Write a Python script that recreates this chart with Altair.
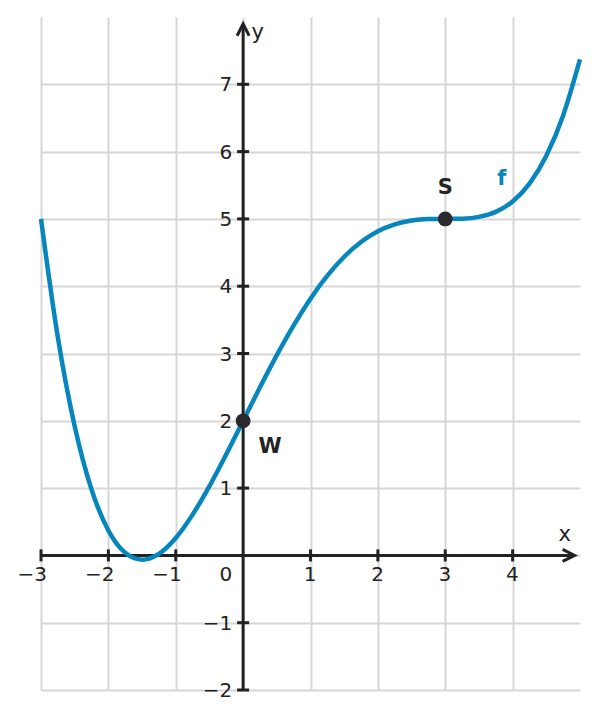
import altair as alt
import pandas as pd

# ---- data ----
curve_x = [-3.0, -2.75, -2.5, -2.25, -2.0, -1.75, -1.5, -1.25, -1.0, -0.75, -0.5, -0.25,
           0.0, 0.25, 0.5, 0.75, 1.0, 1.25, 1.5, 1.75, 2.0, 2.25, 2.5, 2.75,
           3.0, 3.25, 3.5, 3.75, 4.0, 4.25, 4.5, 4.75, 5.0]
curve_y = [5.0, 3.24, 1.919, 0.98, 0.37, 0.038, -0.063, 0.024, 0.259, 0.606, 1.03, 1.504,
           2.0, 2.497, 2.975, 3.418, 3.815, 4.156, 4.438, 4.656, 4.815, 4.918, 4.975, 4.997,
           5.0, 5.004, 5.03, 5.105, 5.259, 5.524, 5.938, 6.538, 7.37]

pt_names = ["S", "W"]
pt_x = [3, 0]
pt_y = [5, 2]

xtick_vals = [-3, -2, -1, 1, 2, 3, 4]
xtick_labels = ["−3", "−2", "−1", "1", "2", "3", "4"]
ytick_vals = [-2, -1, 1, 2, 3, 4, 5, 6, 7]
ytick_labels = ["−2", "−1", "1", "2", "3", "4", "5", "6", "7"]
grid_x = [-3, -2, -1, 0, 1, 2, 3, 4]
grid_y = [-2, -1, 0, 1, 2, 3, 4, 5, 6, 7]

X_DOMAIN = [-3, 5]
Y_DOMAIN = [-2, 8]
X_AXIS_END = 4.92
Y_AXIS_END = 7.9

# ---- styles ----
BLUE = "#0686bc"
DARK = "#222222"
GRID = "#d6d6d6"
FONT = "DejaVu Sans"
FS = 20
W, H = 539, 673

xs = alt.Scale(domain=X_DOMAIN, nice=False, zero=False)
ys = alt.Scale(domain=Y_DOMAIN, nice=False, zero=False)
x_grid_axis = alt.Axis(values=grid_x, grid=True, labels=False, ticks=False, domain=False,
                       title=None, gridColor=GRID, gridWidth=2)
y_grid_axis = alt.Axis(values=grid_y, grid=True, labels=False, ticks=False, domain=False,
                       title=None, gridColor=GRID, gridWidth=2)


def X(field):
    return alt.X(field, type="quantitative", scale=xs, axis=x_grid_axis)


def Y(field):
    return alt.Y(field, type="quantitative", scale=ys, axis=y_grid_axis)


curve_df = pd.DataFrame({"x": curve_x, "y": curve_y})
pts_df = pd.DataFrame({"name": pt_names, "x": pt_x, "y": pt_y})
xt_df = pd.DataFrame({"x": xtick_vals, "y": [0] * len(xtick_vals), "label": xtick_labels})
yt_df = pd.DataFrame({"x": [0] * len(ytick_vals), "y": ytick_vals, "label": ytick_labels})

x_axis = alt.Chart(pd.DataFrame({"x": [X_DOMAIN[0]], "x2": [X_AXIS_END], "y": [0]})).mark_rule(
    color=DARK, strokeWidth=3).encode(x=X("x"), x2="x2:Q", y=Y("y"))
y_axis = alt.Chart(pd.DataFrame({"x": [0], "y": [Y_DOMAIN[0]], "y2": [Y_AXIS_END]})).mark_rule(
    color=DARK, strokeWidth=3).encode(x=X("x"), y=Y("y"), y2="y2:Q")

x_arrow = alt.Chart(pd.DataFrame({"x": [X_AXIS_END], "y": [0]})).mark_point(
    shape="M -1 -0.5 L 0 0 L -1 0.5", size=576, filled=False, stroke=DARK, strokeWidth=3, opacity=1
).encode(x=X("x"), y=Y("y"))
y_arrow = alt.Chart(pd.DataFrame({"x": [0], "y": [Y_AXIS_END]})).mark_point(
    shape="M -0.5 1 L 0 0 L 0.5 1", size=576, filled=False, stroke=DARK, strokeWidth=3, opacity=1
).encode(x=X("x"), y=Y("y"))

x_ticks = alt.Chart(xt_df).mark_point(
    shape="M 0 -1 L 0 1", size=144, filled=False, stroke=DARK, strokeWidth=3, opacity=1
).encode(x=X("x"), y=Y("y"))
y_ticks = alt.Chart(yt_df).mark_point(
    shape="M -1 0 L 1 0", size=144, filled=False, stroke=DARK, strokeWidth=3, opacity=1
).encode(x=X("x"), y=Y("y"))

x_labels = alt.Chart(xt_df).mark_text(
    font=FONT, fontSize=FS, color=DARK, align="right", baseline="alphabetic", dx=6, dy=26
).encode(x=X("x"), y=Y("y"), text="label:N")
y_labels = alt.Chart(yt_df).mark_text(
    font=FONT, fontSize=FS, color=DARK, align="right", baseline="alphabetic", dx=-11, dy=7
).encode(x=X("x"), y=Y("y"), text="label:N")
zero_label = alt.Chart(pd.DataFrame({"x": [0], "y": [0], "label": ["0"]})).mark_text(
    font=FONT, fontSize=FS, color=DARK, align="right", baseline="alphabetic", dx=-11, dy=26
).encode(x=X("x"), y=Y("y"), text="label:N")

curve = alt.Chart(curve_df).mark_line(color=BLUE, strokeWidth=4.5, interpolate="monotone").encode(
    x=X("x"), y=Y("y"))

points = alt.Chart(pts_df).mark_point(
    filled=True, size=220, color="#2a2a2e", opacity=1
).encode(x=X("x"), y=Y("y"))

s_label = alt.Chart(pts_df[pts_df.name == "S"]).mark_text(
    font=FONT, fontSize=21, fontWeight="bold", color=DARK, align="center", baseline="alphabetic", dy=-25
).encode(x=X("x"), y=Y("y"), text="name:N")
w_label = alt.Chart(pts_df[pts_df.name == "W"]).mark_text(
    font=FONT, fontSize=21, fontWeight="bold", color=DARK, align="center", baseline="alphabetic", dx=27, dy=32
).encode(x=X("x"), y=Y("y"), text="name:N")

f_label = alt.Chart(pd.DataFrame({"x": [3.84], "y": [5.5], "t": ["f"]})).mark_text(
    font=FONT, fontSize=21, fontWeight="bold", color=BLUE, align="center", baseline="alphabetic"
).encode(x=X("x"), y=Y("y"), text="t:N")
ax_names = alt.Chart(pd.DataFrame({"x": [4.775, 0.215], "y": [0.21, 7.674], "t": ["x", "y"]})).mark_text(
    font=FONT, fontSize=21, color=DARK, align="center", baseline="alphabetic"
).encode(x=X("x"), y=Y("y"), text="t:N")

chart = alt.layer(
    x_axis, y_axis, x_arrow, y_arrow, x_ticks, y_ticks,
    x_labels, y_labels, zero_label, curve, points, s_label, w_label, f_label, ax_names
).properties(
    width=W, height=H,
    autosize=alt.AutoSizeParams(type="none"),
    padding={"left": 33, "top": 9, "right": 10, "bottom": 20},
    background="white",
).configure_view(stroke=None)

chart.save("out.html", embed_options={"renderer": "svg", "actions": False})
